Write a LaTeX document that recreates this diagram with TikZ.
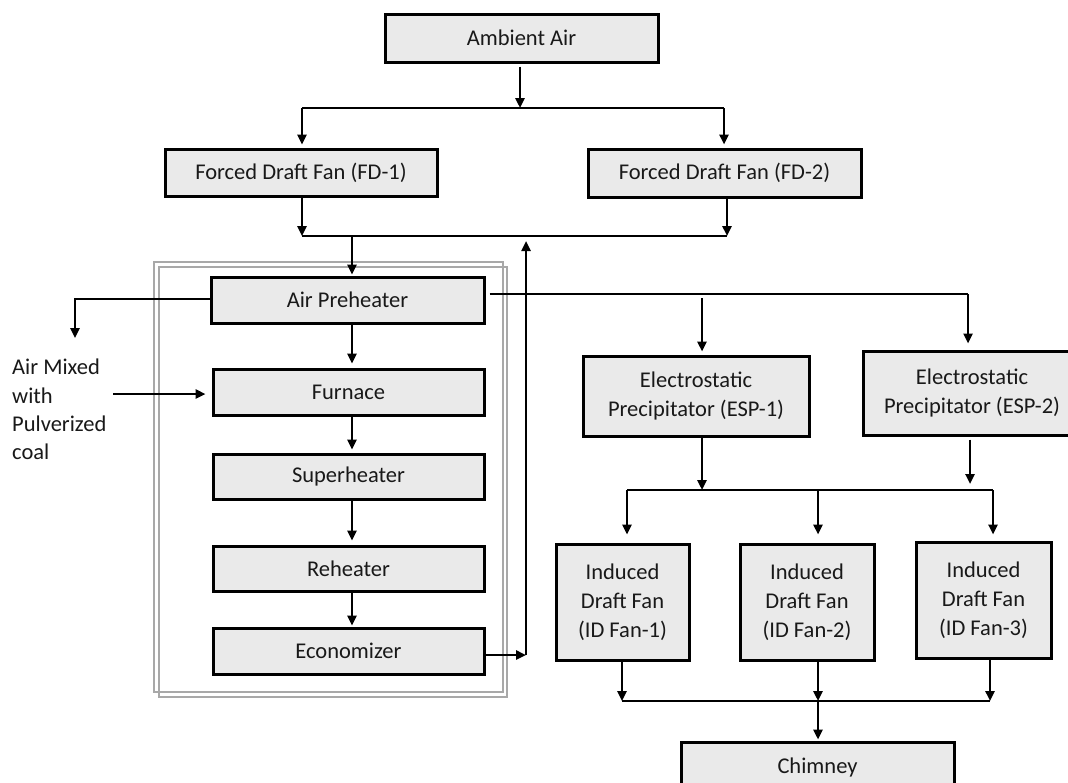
\documentclass[tikz,border=0pt]{standalone}
\usepackage{fontspec}
\setmainfont{Carlito}
\usetikzlibrary{arrows.meta}
\definecolor{boxfill}{RGB}{234,234,234}
\definecolor{framegray}{RGB}{168,168,168}
\definecolor{txt}{RGB}{25,25,25}
\begin{document}
\begin{tikzpicture}[x=1pt,y=-1pt,
  box/.style={draw=black, line width=3pt, fill=boxfill, inner sep=0pt, text=txt,
    font=\fontsize{22.5}{29}\selectfont, align=center},
  plain/.style={inner sep=0pt, text=txt, font=\fontsize{22.5}{28.4}\selectfont, align=left},
  conn/.style={line width=2.4pt, draw=black},
  arr/.style={conn, -{Triangle[length=10pt,width=9pt]}},
  frameline/.style={draw=framegray, line width=2.2pt}]
\useasboundingbox (0,0) rectangle (1068,782);
\fill[white] (0,0) rectangle (1068,782);

% gray double frame
\draw[frameline] (154,262) rectangle (503,692);
\draw[frameline] (159,267) rectangle (507,697);

% boxes
\node[box, minimum width=273pt, minimum height=48pt] (amb) at (521.5,38) {Ambient Air};
\node[box, minimum width=272pt, minimum height=47pt] (fd1) at (301,172.5) {Forced Draft Fan (FD-1)};
\node[box, minimum width=273pt, minimum height=48pt] (fd2) at (724.5,173) {Forced Draft Fan (FD-2)};
\node[box, minimum width=273pt, minimum height=46pt] (aph) at (347.5,300) {Air Preheater};
\node[box, minimum width=271pt, minimum height=46pt] (fur) at (348.5,392) {Furnace};
\node[box, minimum width=271pt, minimum height=45pt] (sup) at (348.5,476.5) {Superheater};
\node[box, minimum width=271pt, minimum height=45pt] (reh) at (348.5,568.5) {Reheater};
\node[box, minimum width=271pt, minimum height=46pt] (eco) at (348.5,651) {Economizer};
\node[box, minimum width=226pt, minimum height=80pt] (esp1) at (696,396) {Electrostatic\\Precipitator (ESP-1)};
\node[box, minimum width=218pt, minimum height=84pt] (esp2) at (972,393) {Electrostatic\\Precipitator (ESP-2)};
\node[box, minimum width=133pt, minimum height=116pt] (id1) at (622.5,602) {Induced\\Draft Fan\\(ID Fan-1)};
\node[box, minimum width=134pt, minimum height=116pt] (id2) at (807,602) {Induced\\Draft Fan\\(ID Fan-2)};
\node[box, minimum width=135pt, minimum height=116pt] (id3) at (983.5,600) {Induced\\Draft Fan\\(ID Fan-3)};
\node[box, minimum width=273pt, minimum height=48pt, text depth=0pt] (chim) at (817.5,766) {Chimney};
\node[plain, anchor=west] (mix) at (12,409.5) {Air Mixed\\with\\Pulverized\\coal};

% junction coordinates
\coordinate (sA) at (520,108);
\coordinate (sL) at (302,108);
\coordinate (sR) at (724,108);
\coordinate (mL) at (302,236);
\coordinate (mR) at (727,236);
\coordinate (mA) at (352,236);
\coordinate (mU) at (526,236);
\coordinate (eR) at (526,655);
\coordinate (lc) at (75,299);
\coordinate (lend) at (75,338);
\coordinate (rc) at (968,294);
\coordinate (r1) at (702,294);
\coordinate (cx) at (352,300);
\coordinate (feed) at (113,394);
\coordinate (d1) at (702,490);
\coordinate (d2) at (970,490);
\coordinate (dL) at (627,490);
\coordinate (dM) at (818,490);
\coordinate (dR) at (993,490);
\coordinate (bL) at (622,701);
\coordinate (bM) at (818,701);
\coordinate (bR) at (990,701);

% ambient air split
\draw[arr, shorten <=3pt] (amb.south -| sA) -- (sA);
\draw[conn] (sL) -- (sR);
\draw[arr, shorten >=3pt] (sL) -- (sL |- fd1.north);
\draw[arr, shorten >=3pt] (sR) -- (sR |- fd2.north);

% forced draft merge
\draw[arr] (mL |- fd1.south) -- (mL);
\draw[arr] (mR |- fd2.south) -- (mR);
\draw[conn] (mL) -- (mR);
\draw[arr, shorten >=1pt] (mA) -- (mA |- aph.north);

% economizer return
\draw[arr] (eco.east |- eR) -- (eR);
\draw[arr, shorten >=5pt] (eR) -- (mU);

% air preheater outputs
\draw[arr] (aph.west |- lc) -- (lc) -- (lend);
\draw[conn, shorten <=4pt] (aph.east |- rc) -- (rc);
\draw[arr, shorten >=6pt] (rc) -- (rc |- esp2.north);
\draw[arr, shorten <=4pt, shorten >=3pt] (r1) -- (r1 |- esp1.north);

% boiler chain
\draw[arr, shorten >=4pt] (aph.south -| cx) -- (fur.north -| cx);
\draw[arr, shorten >=3pt] (fur.south -| cx) -- (sup.north -| cx);
\draw[arr, shorten >=4pt] (sup.south -| cx) -- (reh.north -| cx);
\draw[arr, shorten >=1pt] (reh.south -| cx) -- (eco.north -| cx);

% fuel feed
\draw[arr, shorten >=6pt] (feed) -- (feed -| fur.west);

% ESP outputs
\draw[arr] (esp1.south -| d1) -- (d1);
\draw[arr, shorten <=3pt, shorten >=6pt] (esp2.south -| d2) -- (d2);
\draw[conn] (dL) -- (dR);
\draw[arr, shorten >=8pt] (dL) -- (dL |- id1.north);
\draw[arr, shorten >=8pt] (dM) -- (dM |- id2.north);
\draw[arr, shorten >=6pt] (dR) -- (dR |- id3.north);

% ID fans to chimney
\draw[arr] (id1.south -| bL) -- (bL);
\draw[arr] (id2.south -| bM) -- (bM);
\draw[arr] (id3.south -| bR) -- (bR);
\draw[conn] (bL) -- (bR);
\draw[arr, shorten >=1pt] (bM) -- (bM |- chim.north);
\end{tikzpicture}
\end{document}
